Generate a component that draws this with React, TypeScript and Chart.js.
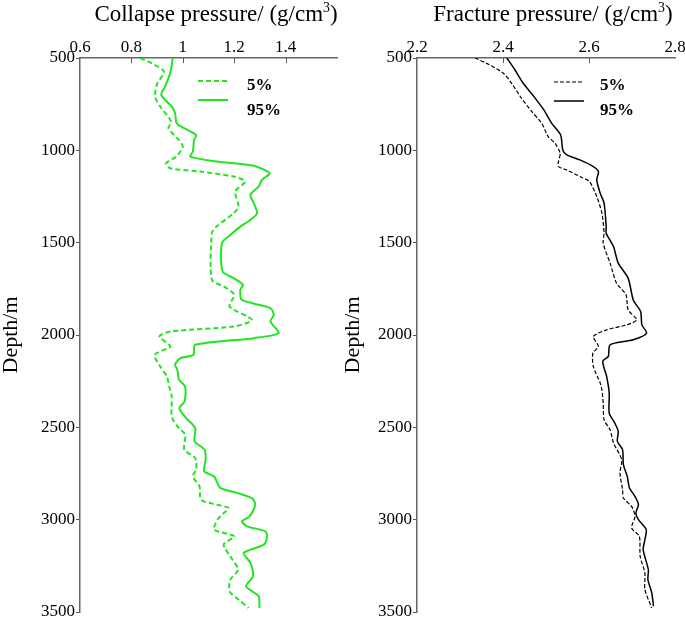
import React, { useEffect, useRef } from "react";
import { Chart, registerables } from "chart.js";
Chart.register(...registerables);

// ---------- Data ----------
const depthTicks = [500, 1000, 1500, 2000, 2500, 3000, 3500];
const seriesLabels = ["5%", "95%"];

const collapseDepth5 = [500, 529, 574, 637, 709, 763, 845, 880, 935, 980, 1034, 1070, 1097, 1115, 1142, 1169, 1223, 1304, 1340, 1413, 1449, 1701, 1737, 1782, 1846, 1918, 1954, 1981, 2008, 2062, 2107, 2170, 2224, 2279, 2333, 2441, 2495, 2540, 2621, 2666, 2729, 2766, 2820, 2892, 2919, 2937, 2973, 3000, 3054, 3090, 3135, 3199, 3271, 3325, 3388, 3433, 3478];
const collapse5 = [0.834, 0.88, 0.927, 0.901, 0.892, 0.912, 0.955, 0.944, 0.979, 1.0, 0.974, 0.935, 0.951, 1.068, 1.198, 1.243, 1.204, 1.217, 1.198, 1.131, 1.113, 1.113, 1.159, 1.2, 1.182, 1.269, 1.198, 0.951, 0.909, 0.951, 0.89, 0.912, 0.938, 0.947, 0.957, 0.957, 0.979, 1.009, 1.006, 1.048, 1.052, 1.039, 1.065, 1.071, 1.133, 1.178, 1.152, 1.135, 1.122, 1.2, 1.159, 1.185, 1.215, 1.185, 1.182, 1.217, 1.256];

const collapseDepth95 = [500, 583, 655, 700, 763, 798, 845, 862, 917, 944, 1007, 1034, 1061, 1084, 1124, 1160, 1196, 1241, 1286, 1340, 1377, 1413, 1458, 1503, 1656, 1692, 1728, 1755, 1810, 1854, 1891, 1927, 1990, 2017, 2053, 2107, 2125, 2161, 2188, 2242, 2279, 2360, 2396, 2450, 2504, 2576, 2621, 2675, 2738, 2766, 2828, 2855, 2883, 2919, 2982, 3009, 3036, 3063, 3090, 3135, 3180, 3234, 3307, 3361, 3415, 3478];
const collapse95 = [0.961, 0.951, 0.931, 0.916, 0.957, 0.97, 0.974, 0.982, 1.052, 1.044, 1.039, 1.029, 1.133, 1.276, 1.338, 1.308, 1.295, 1.263, 1.276, 1.289, 1.263, 1.224, 1.185, 1.152, 1.155, 1.198, 1.234, 1.224, 1.23, 1.341, 1.354, 1.341, 1.373, 1.276, 1.048, 1.042, 0.99, 0.97, 0.979, 0.985, 1.009, 1.007, 0.986, 1.013, 1.048, 1.046, 1.085, 1.089, 1.083, 1.122, 1.146, 1.211, 1.269, 1.282, 1.26, 1.23, 1.25, 1.321, 1.328, 1.315, 1.237, 1.263, 1.273, 1.246, 1.295, 1.298];

const fractureDepth5 = [500, 529, 583, 637, 718, 790, 853, 926, 962, 1016, 1061, 1088, 1106, 1142, 1169, 1250, 1340, 1449, 1503, 1611, 1719, 1782, 1864, 1918, 1945, 1972, 2008, 2062, 2098, 2170, 2260, 2297, 2369, 2459, 2513, 2585, 2675, 2747, 2838, 2883, 2928, 2982, 3045, 3090, 3199, 3289, 3379, 3478];
const fracture5 = [2.335, 2.362, 2.401, 2.42, 2.443, 2.467, 2.49, 2.505, 2.521, 2.533, 2.529, 2.529, 2.548, 2.579, 2.601, 2.618, 2.63, 2.635, 2.633, 2.649, 2.664, 2.686, 2.691, 2.711, 2.688, 2.641, 2.61, 2.622, 2.609, 2.61, 2.626, 2.63, 2.633, 2.635, 2.649, 2.657, 2.676, 2.672, 2.678, 2.68, 2.699, 2.707, 2.699, 2.717, 2.719, 2.73, 2.73, 2.746];

const fractureDepth95 = [500, 565, 637, 709, 781, 853, 917, 998, 1025, 1052, 1088, 1115, 1160, 1232, 1286, 1413, 1449, 1521, 1611, 1692, 1810, 1873, 1945, 1990, 2026, 2053, 2116, 2143, 2224, 2315, 2423, 2477, 2522, 2576, 2621, 2702, 2766, 2828, 2874, 2919, 2964, 3000, 3054, 3108, 3162, 3271, 3325, 3397, 3469];
const fracture95 = [2.409, 2.428, 2.447, 2.472, 2.495, 2.513, 2.534, 2.539, 2.548, 2.579, 2.61, 2.622, 2.618, 2.626, 2.635, 2.64, 2.64, 2.657, 2.668, 2.691, 2.703, 2.72, 2.723, 2.734, 2.703, 2.649, 2.645, 2.632, 2.641, 2.647, 2.647, 2.66, 2.668, 2.666, 2.678, 2.68, 2.689, 2.694, 2.707, 2.715, 2.709, 2.715, 2.733, 2.73, 2.726, 2.738, 2.737, 2.746, 2.75];

const FONT = '"Liberation Serif", "Times New Roman", serif';

function pts(depths: number[], vals: number[]) {
  return depths.map((d, i) => ({ x: vals[i], y: d }));
}

function makeLegend(cfg: { x0: number; x1: number; textX: number; lineY: number[]; textY: number[] }) {
  return {
    id: "customLegend",
    afterDatasetsDraw(chart: any) {
      const ctx = chart.ctx;
      chart.data.datasets.forEach((ds: any, i: number) => {
        ctx.save();
        ctx.strokeStyle = ds.borderColor;
        ctx.lineWidth = ds.borderWidth;
        ctx.setLineDash(ds.borderDash || []);
        ctx.beginPath();
        ctx.moveTo(cfg.x0, cfg.lineY[i]);
        ctx.lineTo(cfg.x1, cfg.lineY[i]);
        ctx.stroke();
        ctx.setLineDash([]);
        ctx.fillStyle = "#000";
        ctx.font = `bold 17px ${FONT}`;
        ctx.textBaseline = "middle";
        ctx.textAlign = "left";
        ctx.fillText(ds.label, cfg.textX, cfg.textY[i]);
        ctx.restore();
      });
    },
  };
}

const innerTicks = {
  id: "innerTicks",
  afterDraw(chart: any) {
    const xs = chart.scales.x;
    const ctx = chart.ctx;
    const top = chart.chartArea.top;
    ctx.save();
    ctx.strokeStyle = "#555";
    ctx.lineWidth = 1;
    xs.ticks.forEach((t: any, i: number) => {
      if (i === 0 || i === xs.ticks.length - 1) return;
      const x = Math.round(xs.getPixelForValue(t.value)) + 0.5;
      ctx.beginPath();
      ctx.moveTo(x, top);
      ctx.lineTo(x, top + 5);
      ctx.stroke();
    });
    ctx.restore();
  },
};

function buildConfig(opts: {
  ds5: { x: number; y: number }[];
  ds95: { x: number; y: number }[];
  color: string;
  dash5: number[];
  width5: number;
  width95: number;
  xmin: number;
  xmax: number;
  hideLast: boolean;
  yWidth: number;
  padRight: number;
  legend: any;
}): any {
  return {
    type: "scatter",
    data: {
      datasets: [
        {
          label: seriesLabels[0],
          data: opts.ds5,
          showLine: true,
          borderColor: opts.color,
          backgroundColor: opts.color,
          borderWidth: opts.width5,
          borderDash: opts.dash5,
          pointRadius: 0,
          tension: 0.25,
          fill: false,
        },
        {
          label: seriesLabels[1],
          data: opts.ds95,
          showLine: true,
          borderColor: opts.color,
          backgroundColor: opts.color,
          borderWidth: opts.width95,
          pointRadius: 0,
          tension: 0.25,
          fill: false,
        },
      ],
    },
    options: {
      animation: false,
      responsive: false,
      maintainAspectRatio: false,
      layout: { padding: { left: 0, top: 0, right: opts.padRight, bottom: 8 } },
      plugins: { legend: { display: false }, tooltip: { enabled: false } },
      scales: {
        x: {
          type: "linear",
          position: "top",
          min: opts.xmin,
          max: opts.xmax,
          afterBuildTicks: (s: any) => {
            const arr = [];
            for (let v = opts.xmin; v <= opts.xmax + 1e-9; v += 0.2) arr.push({ value: Math.round(v * 10) / 10 });
            s.ticks = arr;
          },
          ticks: {
            padding: 0,
            color: "#000",
            maxRotation: 0,
            autoSkip: false,
            font: { family: FONT, size: 17 },
            callback: (v: number, i: number, arr: any[]) =>
              opts.hideLast && i === arr.length - 1 ? "" : String(Math.round(v * 10) / 10),
          },
          grid: { drawOnChartArea: false, drawTicks: false },
          border: { display: true, color: "#666", width: 1.5 },
          afterFit: (s: any) => {
            s.height = 58;
            s.paddingLeft = 0;
            s.paddingRight = 0;
          },
        },
        y: {
          type: "linear",
          position: "left",
          reverse: true,
          min: 500,
          max: 3500,
          afterBuildTicks: (s: any) => {
            s.ticks = depthTicks.map((v) => ({ value: v }));
          },
          ticks: {
            padding: 1,
            color: "#000",
            autoSkip: false,
            font: { family: FONT, size: 17 },
            callback: (v: number) => String(v),
          },
          grid: { drawOnChartArea: false, drawTicks: true, tickLength: 4, color: "#555" },
          border: { display: true, color: "#666", width: 1.5 },
          title: {
            display: true,
            text: "Depth/m",
            color: "#000",
            font: { family: FONT, size: 22, lineHeight: 1 },
            padding: 0,
          },
          afterFit: (s: any) => {
            s.width = opts.yWidth;
            s.paddingTop = 0;
            s.paddingBottom = 0;
          },
        },
      },
    },
    plugins: [makeLegend(opts.legend), innerTicks],
  };
}

function Panel({ config, left, width }: { config: () => any; left: number; width: number }) {
  const ref = useRef<HTMLCanvasElement>(null);
  useEffect(() => {
    const chart = new Chart(ref.current!, config());
    return () => chart.destroy();
  }, []);
  return (
    <canvas
      ref={ref}
      width={width}
      height={620}
      style={{ position: "absolute", left, top: 0, width, height: 620 }}
    />
  );
}

function Title({ center, children }: { center: number; children: React.ReactNode }) {
  return (
    <div
      style={{
        position: "absolute",
        left: center,
        top: 2,
        transform: "translateX(-50%)",
        fontFamily: FONT,
        fontSize: 23,
        lineHeight: "23px",
        whiteSpace: "nowrap",
        color: "#000",
      }}
    >
      {children}
    </div>
  );
}

export default function App() {
  const leftCfg = () =>
    buildConfig({
      ds5: pts(collapseDepth5, collapse5),
      ds95: pts(collapseDepth95, collapse95),
      color: "#22e522",
      dash5: [5, 3],
      width5: 2,
      width95: 2,
      xmin: 0.6,
      xmax: 1.6,
      hideLast: true,
      yWidth: 80,
      padRight: 5,
      legend: { x0: 198, x1: 228, textX: 247, lineY: [81, 100], textY: [86, 111] },
    });
  const rightCfg = () =>
    buildConfig({
      ds5: pts(fractureDepth5, fracture5),
      ds95: pts(fractureDepth95, fracture95),
      color: "#000",
      dash5: [4, 2],
      width5: 1.2,
      width95: 1.5,
      xmin: 2.2,
      xmax: 2.8,
      hideLast: false,
      yWidth: 75,
      padRight: 10,
      legend: { x0: 212, x1: 242, textX: 258, lineY: [82, 101], textY: [86, 111] },
    });
  return (
    <div style={{ position: "fixed", left: 0, top: 0, width: 685, height: 620, background: "#fff", overflow: "hidden" }}>
      <Panel config={leftCfg} left={0} width={342} />
      <Panel config={rightCfg} left={342} width={343} />
      <Title center={216}>
        Collapse pressure/ (g/cm<sup style={{ fontSize: "0.6em", lineHeight: 0 }}>3</sup>)
      </Title>
      <Title center={553}>
        Fracture pressure/ (g/cm<sup style={{ fontSize: "0.6em", lineHeight: 0 }}>3</sup>)
      </Title>
    </div>
  );
}
